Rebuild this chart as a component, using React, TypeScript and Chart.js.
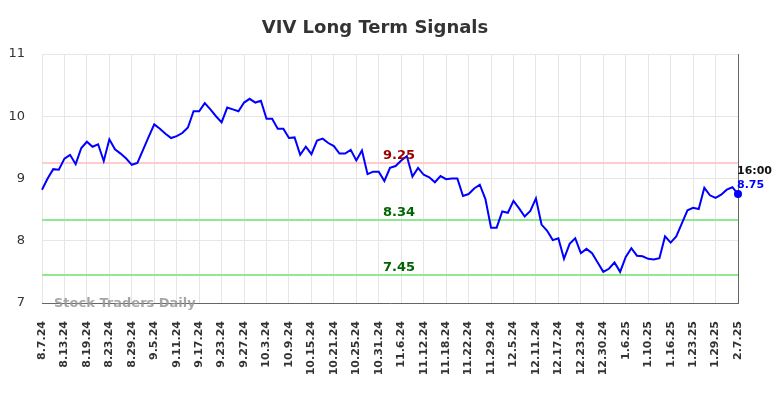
import React, { useEffect, useRef } from 'react';
import { Chart, registerables } from 'chart.js';

Chart.register(...registerables);

const title = 'VIV Long Term Signals';
const watermark = 'Stock Traders Daily';
const lastTime = '16:00';

const tickLabels = [
  '8.7.24', '8.13.24', '8.19.24', '8.23.24', '8.29.24', '9.5.24', '9.11.24', '9.17.24',
  '9.23.24', '9.27.24', '10.3.24', '10.9.24', '10.15.24', '10.21.24', '10.25.24', '10.31.24',
  '11.6.24', '11.12.24', '11.18.24', '11.22.24', '11.29.24', '12.5.24', '12.11.24', '12.17.24',
  '12.23.24', '12.30.24', '1.6.25', '1.10.25', '1.16.25', '1.23.25', '1.29.25', '2.7.25',
];
const pointsPerTick = 4;

const prices = [
  8.82, 9.00, 9.15, 9.14, 9.32, 9.38, 9.23, 9.49, 9.59, 9.51,
  9.55, 9.28, 9.63, 9.47, 9.40, 9.32, 9.22, 9.25, 9.46, 9.67,
  9.87, 9.80, 9.72, 9.65, 9.68, 9.73, 9.82, 10.08, 10.08, 10.21,
  10.11, 10.00, 9.90, 10.14, 10.11, 10.08, 10.22, 10.28, 10.22, 10.25,
  9.96, 9.96, 9.80, 9.80, 9.65, 9.66, 9.38, 9.51, 9.39, 9.61,
  9.64, 9.57, 9.52, 9.40, 9.40, 9.46, 9.29, 9.45, 9.07, 9.11,
  9.11, 8.96, 9.17, 9.20, 9.29, 9.36, 9.03, 9.17, 9.06, 9.02,
  8.94, 9.04, 8.99, 9.00, 9.00, 8.72, 8.75, 8.84, 8.90, 8.67,
  8.21, 8.21, 8.47, 8.45, 8.64, 8.52, 8.39, 8.48, 8.68, 8.26,
  8.16, 8.01, 8.04, 7.71, 7.95, 8.04, 7.80, 7.87, 7.80, 7.65,
  7.50, 7.55, 7.65, 7.50, 7.74, 7.88, 7.76, 7.75, 7.71, 7.70,
  7.72, 8.07, 7.97, 8.07, 8.28, 8.49, 8.53, 8.51, 8.85, 8.73,
  8.69, 8.74, 8.82, 8.86, 8.75,
];

const levels = [9.25, 8.34, 7.45];
const levelLineColors = ['#ffcccc', '#90e890', '#90e890'];
const levelTextColors = ['#990000', '#006400', '#006400'];

const yMin = 7;
const yMax = 11;

const FONT = "'DejaVu Sans', sans-serif";

const overlayPlugin = {
  id: 'overlay',
  beforeDatasetsDraw(chart: any) {
    const { ctx, chartArea, scales } = chart;
    const { left, right } = chartArea;
    ctx.save();
    levels.forEach((lv, k) => {
      const py = Math.round(scales.y.getPixelForValue(lv));
      ctx.strokeStyle = levelLineColors[k];
      ctx.lineWidth = 2;
      ctx.beginPath();
      ctx.moveTo(left, py);
      ctx.lineTo(right, py);
      ctx.stroke();
    });
    ctx.restore();
  },
  afterDatasetsDraw(chart: any) {
    const { ctx, chartArea, scales } = chart;
    const { left, right, top, bottom } = chartArea;
    ctx.save();
    // level labels
    ctx.font = `bold 13px ${FONT}`;
    ctx.textAlign = 'center';
    ctx.textBaseline = 'alphabetic';
    const cx = (left + right) / 2 + 9;
    levels.forEach((lv, k) => {
      const py = scales.y.getPixelForValue(lv);
      ctx.fillStyle = levelTextColors[k];
      ctx.fillText(lv.toFixed(2), cx, py - 4);
    });
    // right border
    ctx.strokeStyle = '#666666';
    ctx.lineWidth = 1;
    ctx.beginPath();
    ctx.moveTo(Math.round(right) + 0.5, top);
    ctx.lineTo(Math.round(right) + 0.5, bottom);
    ctx.stroke();
    // last point labels
    const li = prices.length - 1;
    const lx = scales.x.getPixelForValue(li);
    const ly = scales.y.getPixelForValue(prices[li]);
    ctx.textAlign = 'left';
    ctx.font = `bold 11px ${FONT}`;
    ctx.fillStyle = '#111111';
    ctx.fillText(lastTime, lx - 1, ly - 20);
    ctx.fillStyle = '#0000ff';
    ctx.fillText(prices[li].toFixed(2), lx - 1, ly - 6);
    // last point marker (unclipped)
    ctx.beginPath();
    ctx.arc(lx, ly, 4, 0, Math.PI * 2);
    ctx.fill();
    // watermark
    ctx.font = `bold 13px ${FONT}`;
    ctx.fillStyle = 'rgba(150,150,150,0.85)';
    ctx.fillText(watermark, left + 12, bottom + 4);
    // title
    ctx.font = `bold 18px ${FONT}`;
    ctx.fillStyle = '#333333';
    ctx.textAlign = 'center';
    ctx.fillText(title, 375, 33);
    ctx.restore();
  },
};

export default function App() {
  const ref = useRef<HTMLCanvasElement | null>(null);

  useEffect(() => {
    document.body.style.margin = '0';
    const canvas = ref.current;
    if (!canvas) return;
    const chart = new Chart(canvas, {
      type: 'line',
      data: {
        datasets: [
          {
            data: prices.map((v, i) => ({ x: i, y: v })),
            borderColor: '#0000ff',
            backgroundColor: '#0000ff',
            borderWidth: 2,
            tension: 0,
            pointRadius: 0,
            pointHoverRadius: 0,
            clip: false,
          },
        ],
      },
      options: {
        animation: false,
        responsive: false,
        devicePixelRatio: 1,
        layout: { padding: { top: 54, right: 46, left: 0, bottom: 0 } },
        plugins: {
          legend: { display: false },
          title: { display: false },
          tooltip: { enabled: false },
        },
        scales: {
          x: {
            type: 'linear',
            min: 0,
            max: prices.length - 1,
            afterBuildTicks: (s: any) => {
              s.ticks = tickLabels.map((_, k) => ({ value: k * pointsPerTick }));
            },
            afterFit: (s: any) => {
              s.height = 95;
            },
            ticks: {
              autoSkip: false,
              minRotation: 90,
              maxRotation: 90,
              padding: 18,
              color: '#333333',
              font: { family: FONT, size: 11, weight: 'bold' },
              callback: (_v: any, i: number) => tickLabels[i],
            },
            grid: { color: '#e6e6e6', drawTicks: false, lineWidth: 1 },
            border: { color: '#666666', width: 1 },
          },
          y: {
            min: yMin,
            max: yMax,
            afterFit: (s: any) => {
              s.width = 42;
            },
            ticks: {
              stepSize: 1,
              padding: 17,
              color: '#333333',
              font: { family: FONT, size: 13 },
            },
            grid: { color: '#e6e6e6', drawTicks: false, lineWidth: 1 },
            border: { display: false },
          },
        },
      },
      plugins: [overlayPlugin],
    } as any);
    return () => chart.destroy();
  }, []);

  return (
    <div style={{ position: 'absolute', left: 0, top: 0, width: 784, height: 398, background: '#ffffff' }}>
      <canvas ref={ref} width={784} height={398} style={{ width: 784, height: 398 }} />
    </div>
  );
}
